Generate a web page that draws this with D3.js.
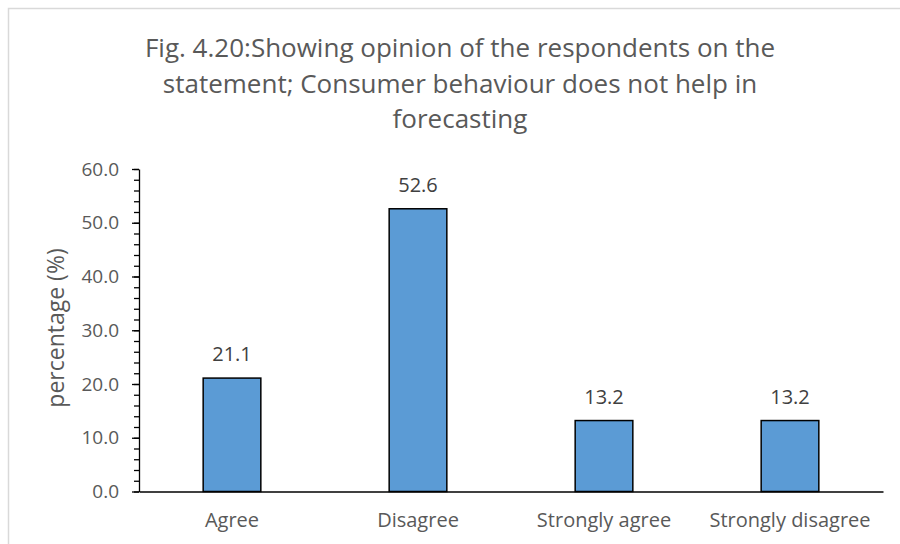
<!DOCTYPE html>
<html>
<head>
<meta charset="utf-8">
<script src="https://cdn.jsdelivr.net/npm/d3@7"></script>
<style>
  body { margin: 0; background: #fff; }
  text { font-family: "Open Sans", "Noto Sans", sans-serif; }
</style>
</head>
<body>
<svg id="chart" width="900" height="544"></svg>
<script>
// data
const categories = ["Agree", "Disagree", "Strongly agree", "Strongly disagree"]
const percentages = [21.1, 52.6, 13.2, 13.2]
const yTicks = [0, 10, 20, 30, 40, 50, 60]
const titleLines = [
    "Fig. 4.20:Showing opinion of the respondents on the",
    "statement; Consumer behaviour does not help in",
    "forecasting"
]

const width = 900,
    height = 544
const plot = { left: 139, right: 883, top: 169, bottom: 491.5 }

const svg = d3.select('#chart')

svg.append('rect')
    .attr('width', width)
    .attr('height', height)
    .attr('fill', '#fff')

// light frame of the chart area (runs off the right / bottom edge)
svg.append('rect')
    .attr('x', 8.5)
    .attr('y', 8.5)
    .attr('width', width + 10)
    .attr('height', height + 10)
    .attr('fill', 'none')
    .attr('stroke', '#d9d9d9')
    .attr('stroke-width', 1.5)

const x = d3.scaleBand()
    .domain(categories)
    .range([plot.left, plot.right])
    .paddingInner(0.69)
    .paddingOuter(0.345)

const y = d3.scaleLinear()
    .domain([0, 60])
    .range([plot.bottom, plot.top])

// title
const title = svg.append('g')
    .attr('fill', '#595959')
    .attr('font-size', 26)
    .attr('text-anchor', 'middle')
title.selectAll('text')
    .data(titleLines)
    .join('text')
    .attr('x', 460)
    .attr('y', (d, i) => 57 + i * 35.5)
    .text(d => d)

// bars
svg.append('g')
    .selectAll('rect')
    .data(percentages)
    .join('rect')
    .attr('x', (d, i) => x(categories[i]))
    .attr('y', d => y(d))
    .attr('width', x.bandwidth())
    .attr('height', d => y(0) - y(d))
    .attr('fill', '#5b9bd5')
    .attr('stroke', '#000')
    .attr('stroke-width', 1.5)

// value labels
svg.append('g')
    .attr('fill', '#404040')
    .attr('font-size', 20)
    .attr('text-anchor', 'middle')
    .selectAll('text')
    .data(percentages)
    .join('text')
    .attr('x', (d, i) => x(categories[i]) + x.bandwidth() / 2)
    .attr('y', d => y(d) - 17)
    .text(d => d.toFixed(1))

// y axis: minor ticks then major ticks with labels
const minorAxis = svg.append('g')
    .attr('transform', `translate(${plot.left},0)`)
    .call(d3.axisLeft(y).tickValues(d3.range(0, 61, 2)).tickSize(5).tickFormat(''))
minorAxis.select('.domain').remove()
minorAxis.selectAll('line').attr('stroke', '#000').attr('stroke-width', 1.3)

const yAxis = svg.append('g')
    .attr('transform', `translate(${plot.left},0)`)
    .call(d3.axisLeft(y).tickValues(yTicks).tickSize(7).tickSizeOuter(0).tickPadding(13).tickFormat(d3.format('.1f')))
yAxis.select('.domain').attr('stroke', '#000').attr('stroke-width', 1.3)
yAxis.selectAll('line').attr('stroke', '#000').attr('stroke-width', 1.3)
yAxis.selectAll('text')
    .attr('fill', '#595959')
    .attr('font-size', 19)
    .attr('font-family', '"Open Sans", sans-serif')

// x axis: baseline only, no ticks
const xAxis = svg.append('g')
    .attr('transform', `translate(0,${plot.bottom})`)
    .call(d3.axisBottom(x).tickSize(0).tickPadding(21))
xAxis.select('.domain').attr('stroke', '#000').attr('stroke-width', 1.3)
xAxis.selectAll('text')
    .attr('fill', '#595959')
    .attr('font-size', 20)
    .attr('font-family', '"Open Sans", sans-serif')

// y axis title
svg.append('text')
    .attr('transform', 'translate(64,328) rotate(-90)')
    .attr('text-anchor', 'middle')
    .attr('fill', '#595959')
    .attr('font-size', 23)
    .text('percentage (%)')
</script>
</body>
</html>
